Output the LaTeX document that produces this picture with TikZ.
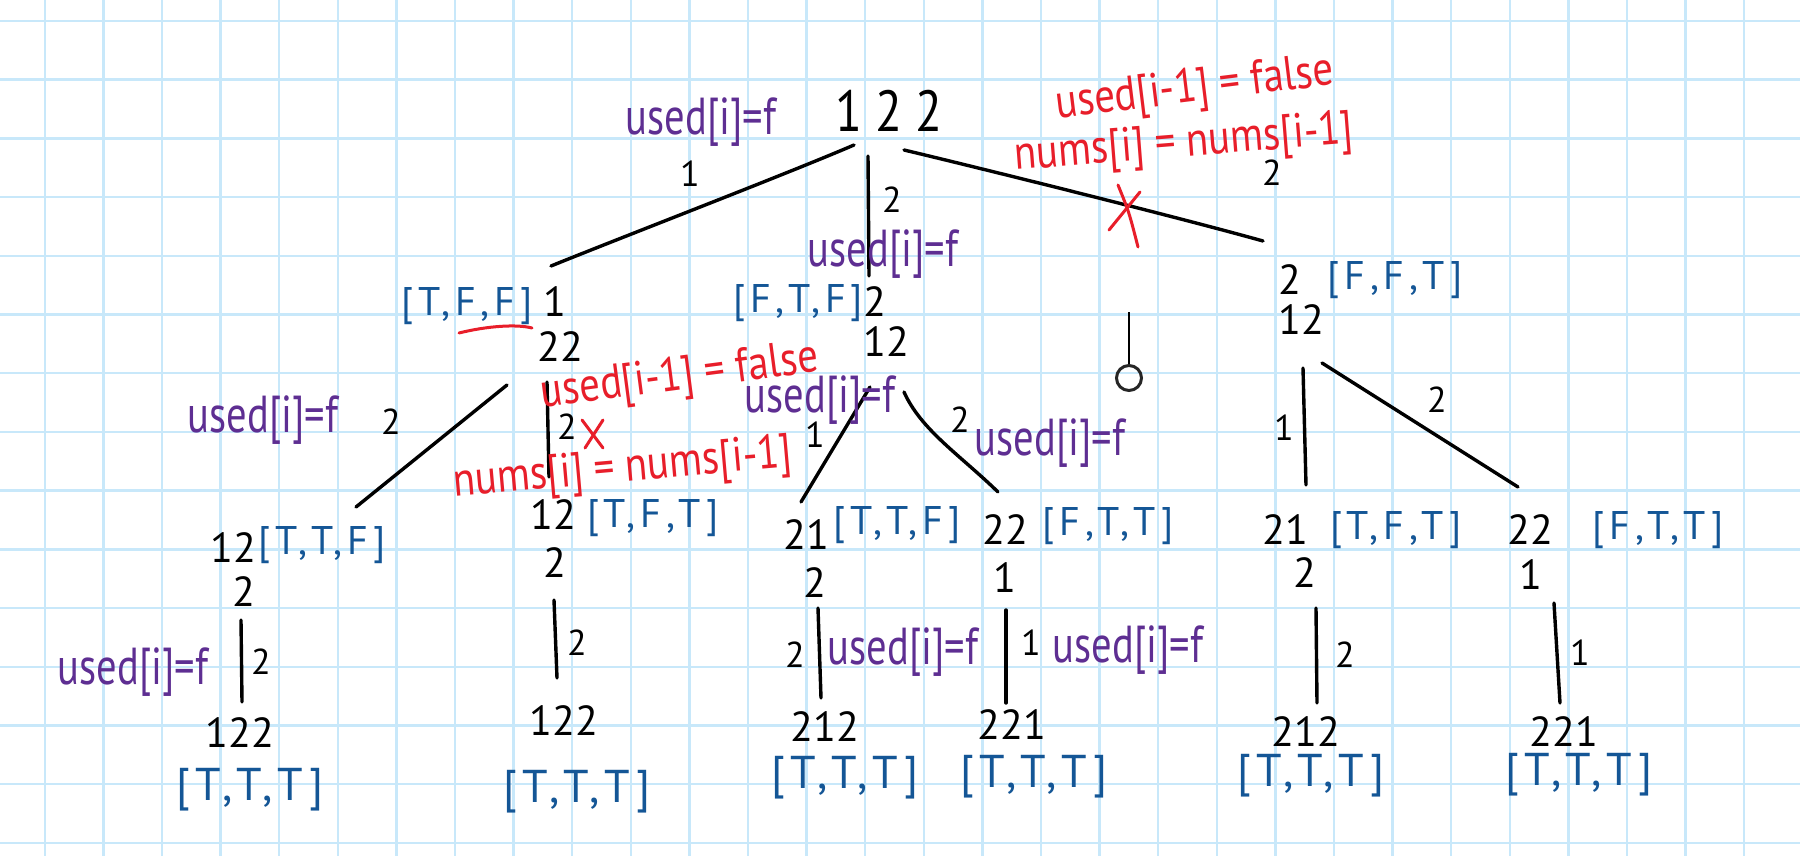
\documentclass[tikz,border=0pt]{standalone}
\usepackage{fontspec}
\setmainfont{PT Sans}
\newfontfamily\hand[FakeStretch=0.85]{PT Sans}
\newfontfamily\handc[FakeStretch=0.78]{PT Sans}
\newfontfamily\handsp[LetterSpace=12]{PT Sans}
\usetikzlibrary{calc}
\definecolor{gridc}{RGB}{200,232,250}
\definecolor{inkblue}{RGB}{20,86,150}
\definecolor{inkpurple}{RGB}{94,46,146}
\definecolor{inkred}{RGB}{232,30,42}
\tikzset{
  dig/.style={font=\fontsize{21}{21}\selectfont, inner sep=0pt, text=black},
  rootdig/.style={font=\hand\fontsize{29}{29}\selectfont, inner sep=0pt, text=black},
  elab/.style={font=\fontsize{18}{18}\selectfont, inner sep=0pt, text=black},
  bool/.style={font=\handsp\fontsize{20}{20}\selectfont, text=inkblue, inner sep=0pt},
  boolend/.style={font=\handsp\fontsize{23}{23}\selectfont, text=inkblue, inner sep=0pt},
  cond/.style={font=\handc\fontsize{26}{26}\selectfont, text=inkpurple, inner sep=0pt},
  prune/.style={font=\hand\fontsize{24}{24}\selectfont, text=inkred, inner sep=0pt},
  edge/.style={line width=1.7pt, line cap=round, line join=round},
  cross/.style={line width=1.5pt, draw=inkred, line cap=round},
  gridline/.style={draw=gridc, line width=1.2pt},
}
\begin{document}
\begin{tikzpicture}[x=0.5pt,y=-0.5pt]
\fill[white] (0,0) rectangle (1800,856);
\useasboundingbox (0,0) rectangle (1800,856);
\foreach \k in {0,...,29} { \draw[gridline] ({44.8+58.6*\k},0) -- ({44.8+58.6*\k},856); }
\foreach \k in {0,...,14} { \draw[gridline] (0,{21+58.7*\k}) -- (1800,{21+58.7*\k}); }

% root
\node[rootdig] (root) at (889,111) {1 2 2};

% level 1
\node[dig] (a1) at (555,302) {1};
\node[bool] (a1b) at (467,306) {[T,F,F]};
\node[dig] (a2) at (560,347) {22};
\node[dig] (b1) at (875,302) {2};
\node[bool] (b1b) at (798,303) {[F,T,F]};
\node[dig] (b2) at (886,342) {12};
\node[dig] (c1) at (1290,280) {2};
\node[bool] (c1b) at (1395,280) {[F,F,T]};
\node[dig] (c2) at (1301,320) {12};

% level 2
\node[dig] (d1) at (233,548) {12};
\node[bool] (d1b) at (322,545) {[T,T,F]};
\node[dig] (d2) at (244,592) {2};
\node[dig] (e1) at (553,515) {12};
\node[bool] (e1b) at (653,518) {[T,F,T]};
\node[dig] (e2) at (555,563) {2};
\node[dig] (f1) at (806,535) {21};
\node[bool] (f1b) at (897,525) {[T,T,F]};
\node[dig] (f2) at (815,583) {2};
\node[dig] (g1) at (1005,530) {22};
\node[bool] (g1b) at (1108,526) {[F,T,T]};
\node[dig] (g2) at (1005,578) {1};
\node[dig] (h1) at (1285,530) {21};
\node[bool] (h1b) at (1396,530) {[T,F,T]};
\node[dig] (h2) at (1305,573) {2};
\node[dig] (i1) at (1530,530) {22};
\node[bool] (i1b) at (1658,530) {[F,T,T]};
\node[dig] (i2) at (1531,575) {1};

% level 3
\node[dig] (l1) at (240,733) {122};
\node[boolend] (l1b) at (250,790) {[T,T,T]};
\node[dig] (l2) at (564,721) {122};
\node[boolend] (l2b) at (577,792) {[T,T,T]};
\node[dig] (l3) at (825,727) {212};
\node[boolend] (l3b) at (845,778) {[T,T,T]};
\node[dig] (l4) at (1012,725) {221};
\node[boolend] (l4b) at (1034,777) {[T,T,T]};
\node[dig] (l5) at (1306,732) {212};
\node[boolend] (l5b) at (1311,776) {[T,T,T]};
\node[dig] (l6) at (1564,732) {221};
\node[boolend] (l6b) at (1579,775) {[T,T,T]};

% edges
\draw[edge] ($(root)+(-35,34)$) .. controls ($(root)+(-100,62)$) and ($(a1)+(70,-66)$) .. ($(a1)+(-4,-36)$);
\draw[edge] ($(root)+(-21,45)$) -- ($(b1)+(-6,-26)$);
\draw[edge] ($(root)+(15,39)$) .. controls ($(root)+(70,52)$) and ($(c1)+(-120,-65)$) .. ($(c1)+(-27,-39)$);
\draw[edge] ($(a2)+(-53,38)$) -- ($(d1)+(123,-41)$);
\draw[edge] ($(a2)+(-13,35)$) -- ($(e1)+(-4,-38)$);
\draw[edge] ($(b2)+(-16,45)$) -- ($(f1)+(-5,-33)$);
\draw[edge] ($(b2)+(18,50)$) .. controls ($(b2)+(35,88)$) and ($(g1)+(-45,-75)$) .. ($(g1)+(-7,-38)$);
\draw[edge] ($(c2)+(2,48)$) -- ($(h1)+(21,-45)$);
\draw[edge] ($(c2)+(21,43)$) -- ($(i1)+(-12,-43)$);
\draw[edge] ($(d2)+(-3,28)$) -- ($(l1)+(2,-31)$);
\draw[edge] ($(e2)+(-1,37)$) -- ($(l2)+(-7,-43)$);
\draw[edge] ($(f2)+(3,25)$) -- ($(l3)+(-4,-29)$);
\draw[edge] ($(g2)+(1,32)$) -- ($(l4)+(-6,-22)$);
\draw[edge] ($(h2)+(11,35)$) -- ($(l5)+(11,-29)$);
\draw[edge] ($(i2)+(23,28)$) -- ($(l6)+(-4,-29)$);

% edge labels
\node[elab] (t1) at (690,174) {1};
\node[elab] (t2) at (892,200) {2};
\node[elab] (t3) at (1272,173) {2};
\node[elab] (t4) at (391,422) {2};
\node[elab] (t5) at (567,427) {2};
\node[elab] (t6) at (815,435) {1};
\node[elab] (t7) at (960,420) {2};
\node[elab] (t8) at (1284,428) {1};
\node[elab] (t9) at (1437,400) {2};
\node[elab] (t10) at (261,662) {2};
\node[elab] (t11) at (577,643) {2};
\node[elab] (t12) at (795,655) {2};
\node[elab] (t13) at (1031,643) {1};
\node[elab] (t14) at (1345,655) {2};
\node[elab] (t15) at (1580,653) {1};

% purple conditions
\node[cond] (u1) at (701,122) {used[i]=f};
\node[cond] (u2) at (883,254) {used[i]=f};
\node[cond] (u3) at (263,420) {used[i]=f};
\node[cond] (u4) at (820,400) {used[i]=f};
\node[cond] (u5) at (1050,443) {used[i]=f};
\node[cond] (u6) at (133,672) {used[i]=f};
\node[cond] (u7) at (903,652) {used[i]=f};
\node[cond] (u8) at (1128,650) {used[i]=f};

% red pruning notes
\node[prune, rotate=7] (r1) at (1195,90) {used[i-1] = false};
\node[prune, rotate=4.5] (r2) at (1184,145) {nums[i] = nums[i-1]};
\node[prune, rotate=7.5] (r3) at (680,378) {used[i-1] = false};
\node[prune, rotate=5] (r4) at (623,470) {nums[i] = nums[i-1]};

% red crosses
\coordinate (x1) at (1127,212);
\draw[cross] ($(x1)+(-18,18)$) -- ($(x1)+(13,-20)$);
\draw[cross] ($(x1)+(-9,-27)$) .. controls ($(x1)+(2,0)$) .. ($(x1)+(11,35)$);
\coordinate (x2) at (593,434);
\draw[cross] ($(x2)+(-11,-14)$) -- ($(x2)+(10,14)$);
\draw[cross] ($(x2)+(10,-14)$) -- ($(x2)+(-8,14)$);
% red underline under F,F
\draw[cross] ($(a1b)+(-8,27)$) .. controls ($(a1b)+(20,20)$) and ($(a1b)+(50,18)$) .. ($(a1b)+(65,22)$);

% pin
\node[circle, draw=black!85, line width=1.5pt, minimum size=12.5pt, inner sep=0pt] (pin) at (1129,378) {};
\draw[line width=0.6pt] (pin.north) -- ++(0,-52);
\end{tikzpicture}
\end{document}
